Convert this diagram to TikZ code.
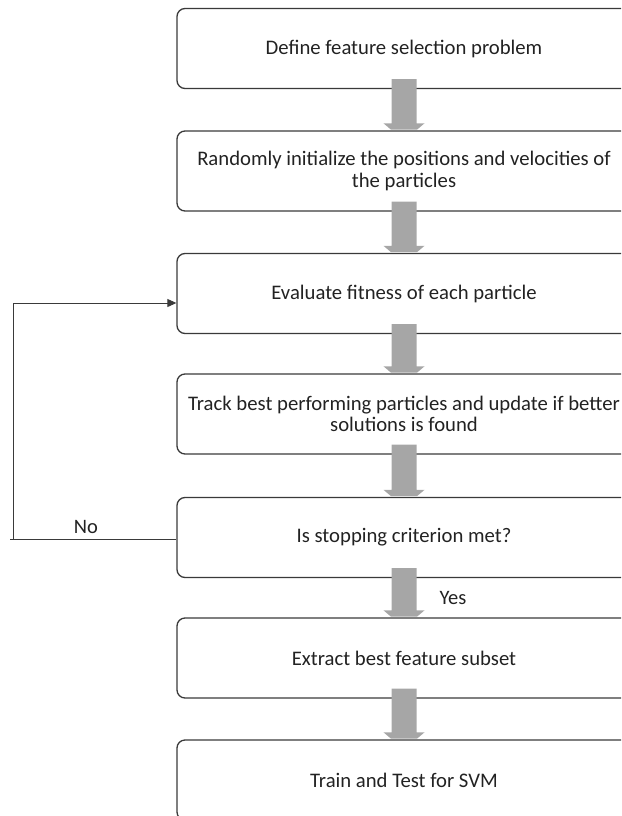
\documentclass[tikz,border=0pt]{standalone}
\usepackage{fontspec}
\setmainfont{Carlito}
\usetikzlibrary{calc,arrows.meta}
\definecolor{arrowgray}{HTML}{A6A6A6}
\definecolor{linegray}{HTML}{3A3A3A}
\definecolor{txt}{HTML}{222222}
\tikzset{
  box/.style={draw=linegray, line width=1.3pt, rounded corners=8pt, minimum width=454pt,
    minimum height=80pt, inner sep=0pt, align=center, text=txt,
    font=\fontsize{20.7}{21.5}\selectfont},
  lbl/.style={text=txt, font=\fontsize{20.5}{22}\selectfont, inner sep=0pt},
  fbline/.style={draw=linegray, line width=0.9pt}
}
\newcommand{\flowarrow}[2]{%
  \fill[arrowgray] ($(#1.south)+(-12.5,-10)$) -- ($(#1.south)+(12.5,-10)$)
    -- ($(#2.north)+(12.5,-7)$) -- ($(#2.north)+(20.5,-7)$) -- ($(#2.north)+(13,-0.7)$)
    -- ($(#2.north)+(-13,-0.7)$) -- ($(#2.north)+(-20.5,-7)$) -- ($(#2.north)+(-12.5,-7)$) -- cycle;}
\begin{document}
\begin{tikzpicture}[x=1pt,y=-1pt]
\useasboundingbox (0,0) rectangle (621,816);
\clip (0,0) rectangle (621,816);
\node[box] (b1) at (404,48.5) {Define feature selection problem};
\node[box] (b2) at (404,171) {Randomly initialize the positions and velocities of\\the particles};
\node[box] (b3) at (404,293.5) {Evaluate fitness of each particle};
\node[box] (b4) at (404,414) {Track best performing particles and update if better\\solutions is found};
\node[box] (b5) at (404,537.5) {Is stopping criterion met?};
\node[box] (b6) at (404,658) {Extract best feature subset};
\node[box] (b7) at (404,780) {Train and Test for SVM};
\flowarrow{b1}{b2}
\flowarrow{b2}{b3}
\flowarrow{b3}{b4}
\flowarrow{b4}{b5}
\flowarrow{b5}{b6}
\flowarrow{b6}{b7}
\coordinate (fb) at (13,539.5);
\coordinate (fbstart) at (10,539.5);
\draw[fbline] (b5.west |- fb) -- (fbstart);
\draw[fbline, -{Triangle[length=9pt,width=8pt]}] (fb) |- ($(b3.west)+(0,9.5)$);
\node[lbl] (no) at (86,527) {No};
\node[lbl] (yes) at (453,598) {Yes};
\end{tikzpicture}
\end{document}
